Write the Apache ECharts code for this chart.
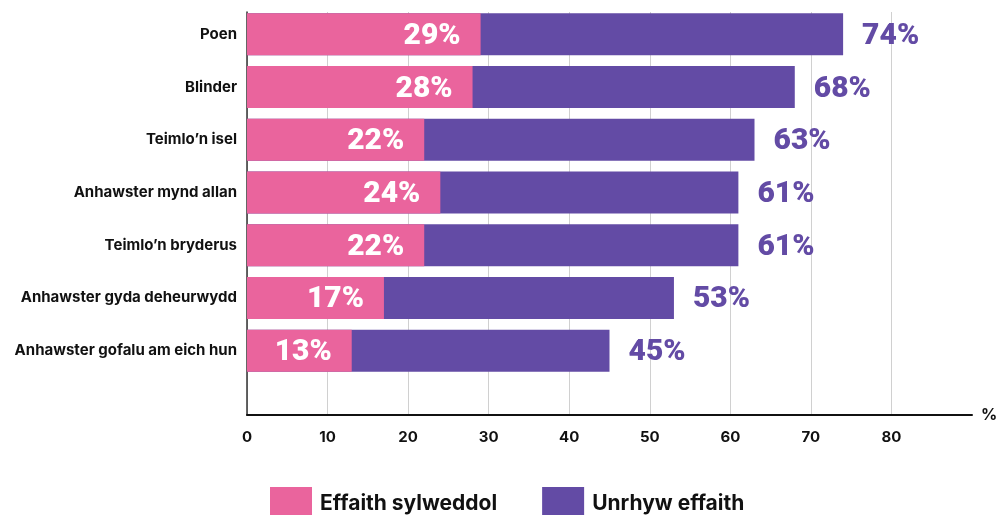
<!DOCTYPE html>
<html>
<head>
<meta charset="utf-8">
<script src="https://cdn.jsdelivr.net/npm/echarts@6/dist/echarts.min.js"></script>
<style>
  html, body { margin: 0; padding: 0; background: #fff; }
  #chart { width: 996px; height: 515px; }
</style>
</head>
<body>
<div id="chart"></div>
<script>
// categories (top to bottom)
var categories = [
  'Poen',
  'Blinder',
  'Teimlo\u2019n isel',
  'Anhawster mynd allan',
  'Teimlo\u2019n bryderus',
  'Anhawster gyda deheurwydd',
  'Anhawster gofalu am eich hun'
];
// % reporting a significant effect
var significant = [29, 28, 22, 24, 22, 17, 13];
// % reporting any effect
var anyEffect = [74, 68, 63, 61, 61, 53, 45];
var seriesNames = ['Effaith sylweddol', 'Unrhyw effaith'];
var xMin = 0, xMax = 90, xStep = 10;

var pink = '#EA649D';
var purple = '#634BA5';
var font = 'Inter';
var condensed = 'Roboto, sans-serif';

var chart = echarts.init(document.getElementById('chart'));

// gridlines for 10..80, none at 90
var gridColors = [];
for (var v = xMin; v <= xMax; v += xStep) {
  gridColors.push(v === xMax ? 'rgba(0,0,0,0)' : '#d0d0d0');
}

chart.setOption({
  animation: false,
  textStyle: { fontFamily: font },
  legend: {
    data: seriesNames,
    left: 265,
    top: 482,
    icon: 'rect',
    itemWidth: 42,
    itemHeight: 34,
    itemGap: 45,
    textStyle: { fontSize: 21, fontWeight: 'bold', color: '#111', fontFamily: font, padding: [0, 0, 0, 3] }
  },
  grid: [
    // frame: x axis, gridlines, left axis line
    { left: 247, right: 24, top: 12, bottom: 100, outerBoundsMode: 'none', containLabel: false },
    // bars
    { left: 247, right: 24, top: 8, height: 369, outerBoundsMode: 'none', containLabel: false }
  ],
  xAxis: [
    {
      gridIndex: 0,
      type: 'value',
      min: xMin, max: xMax, interval: xStep,
      name: '%',
      nameLocation: 'end',
      nameGap: 9,
      nameTextStyle: { fontSize: 16, fontWeight: 'bold', color: '#111', verticalAlign: 'middle' },
      axisLine: { show: true, lineStyle: { color: '#111', width: 2 } },
      axisTick: { show: false },
      axisLabel: {
        margin: 15, fontSize: 15, fontWeight: 'bold', color: '#111',
        formatter: function (v) { return v === xMax ? '' : String(v); }
      },
      splitLine: { show: true, lineStyle: { color: gridColors, width: 1 } }
    },
    {
      gridIndex: 1,
      type: 'value',
      min: xMin, max: xMax, interval: xStep,
      show: false
    }
  ],
  yAxis: [
    {
      gridIndex: 0,
      type: 'value',
      min: 0, max: 1,
      axisLine: { show: true, lineStyle: { color: '#333', width: 1.5 } },
      axisTick: { show: false },
      axisLabel: { show: false },
      splitLine: { show: false }
    },
    {
      gridIndex: 1,
      type: 'category',
      inverse: true,
      data: categories,
      axisLine: { show: false },
      axisTick: { show: false },
      axisLabel: { margin: 10, fontSize: 15, fontWeight: 'bold', color: '#111' }
    }
  ],
  series: [
    {
      name: seriesNames[1],
      type: 'bar',
      xAxisIndex: 1,
      yAxisIndex: 1,
      data: anyEffect,
      barWidth: 42,
      barGap: '-100%',
      itemStyle: { color: purple },
      label: {
        show: true,
        position: 'right',
        distance: 19,
        offset: [0, 2],
        formatter: '{c}%',
        fontFamily: condensed,
        fontWeight: 900,
        fontSize: 30,
        color: purple
      }
    },
    {
      name: seriesNames[0],
      type: 'bar',
      xAxisIndex: 1,
      yAxisIndex: 1,
      data: significant,
      barWidth: 42,
      barGap: '-100%',
      itemStyle: { color: pink },
      label: {
        show: true,
        position: 'insideRight',
        distance: 20,
        offset: [0, 2],
        formatter: '{c}%',
        fontFamily: condensed,
        fontWeight: 900,
        fontSize: 30,
        color: '#fff'
      }
    }
  ]
});
</script>
</body>
</html>
